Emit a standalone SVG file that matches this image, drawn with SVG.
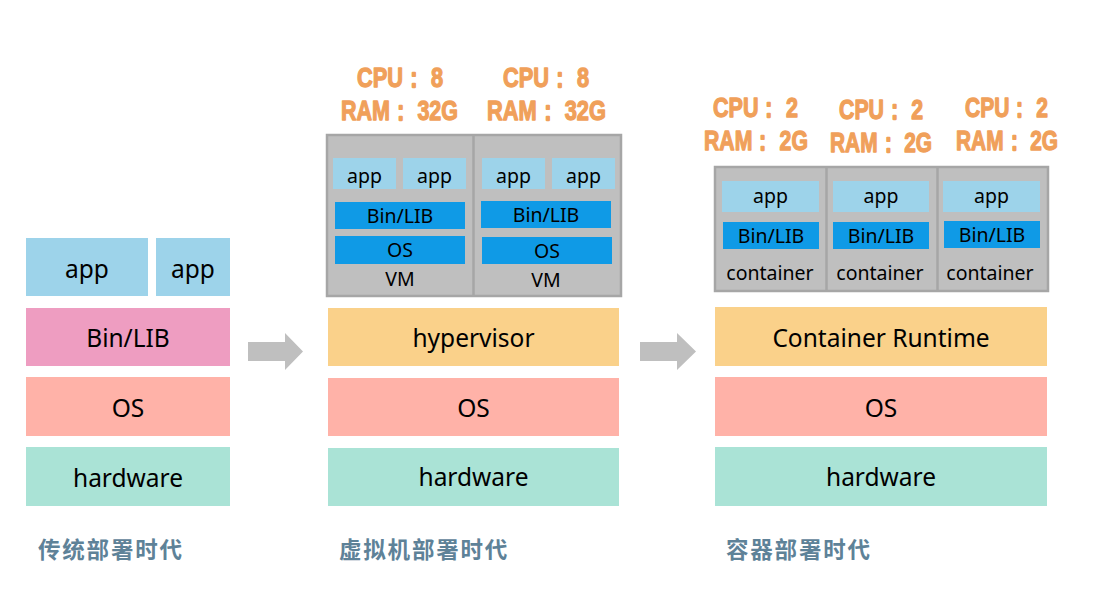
<svg xmlns="http://www.w3.org/2000/svg" width="1093" height="615" viewBox="0 0 1093 615">
<style>
.t{font-family:"Noto Sans","Open Sans","DejaVu Sans",sans-serif;fill:#000;text-anchor:middle}
.big{font-size:24.5px}
.sm{font-size:19.5px}
.res{font-family:"Liberation Sans",Arial,sans-serif;font-weight:bold;font-size:28px;fill:#F0A05A;stroke:#F0A05A;stroke-width:1.3;stroke-linejoin:round}
.era{font-family:"Noto Sans CJK SC","Noto Sans",sans-serif;font-weight:bold;font-size:22.5px;fill:#5E8298;letter-spacing:1.8px}
.app{fill:#9DD3EA}
.bin{fill:#0F9AE6}
.os{fill:#FFB2A8}
.hw{fill:#AAE3D6}
.hyp{fill:#FAD18A}
.box{fill:#BFBFBF;stroke:#A6A6A6;stroke-width:2.5}
.div{stroke:#A6A6A6;stroke-width:2.5}
.arrow{fill:#BFBFBF}
</style>

<!-- Traditional -->
<g id="traditional">
  <g id="t-app1"><rect class="app" x="26" y="238" width="122" height="58"/><text class="t big" x="87" y="278">app</text></g>
  <g id="t-app2"><rect class="app" x="156" y="238" width="74" height="58"/><text class="t big" x="193" y="278">app</text></g>
  <g id="t-bin"><rect fill="#EE9DC1" x="26" y="308" width="204" height="58"/><text class="t big" x="128" y="347">Bin/LIB</text></g>
  <g id="t-os"><rect class="os" x="26" y="377" width="204" height="59"/><text class="t big" x="128" y="417">OS</text></g>
  <g id="t-hw"><rect class="hw" x="26" y="447" width="204" height="59"/><text class="t big" x="128" y="487">hardware</text></g>
  <text class="era" x="38" y="558">传统部署时代</text>
</g>

<!-- Virtual machine -->
<g id="vm-era">
  <g id="vm-res1">
    <text class="res" x="357" y="87" textLength="86" lengthAdjust="spacingAndGlyphs" xml:space="preserve">CPU： 8</text>
    <text class="res" x="341" y="120" textLength="117" lengthAdjust="spacingAndGlyphs" xml:space="preserve">RAM： 32G</text>
  </g>
  <g id="vm-res2">
    <text class="res" x="503" y="87" textLength="86" lengthAdjust="spacingAndGlyphs" xml:space="preserve">CPU： 8</text>
    <text class="res" x="487" y="120" textLength="119" lengthAdjust="spacingAndGlyphs" xml:space="preserve">RAM： 32G</text>
  </g>
  <g id="vm-box">
    <rect class="box" x="327" y="135" width="294" height="161"/>
    <line class="div" x1="473.5" y1="135" x2="473.5" y2="296"/>
  </g>
  <g id="vm1">
    <rect class="app" x="333" y="158" width="63" height="31"/><text class="t sm" x="364.5" y="183">app</text>
    <rect class="app" x="403" y="158" width="63" height="31"/><text class="t sm" x="434.5" y="183">app</text>
    <rect class="bin" x="335" y="202" width="130" height="27"/><text class="t sm" x="400" y="223">Bin/LIB</text>
    <rect class="bin" x="335" y="236" width="130" height="28"/><text class="t sm" x="400" y="257">OS</text>
    <text class="t sm" x="400" y="286">VM</text>
  </g>
  <g id="vm2">
    <rect class="app" x="482" y="158" width="63" height="31"/><text class="t sm" x="513.5" y="183">app</text>
    <rect class="app" x="552" y="158" width="63" height="31"/><text class="t sm" x="583.5" y="183">app</text>
    <rect class="bin" x="481" y="201" width="130" height="27"/><text class="t sm" x="546" y="222">Bin/LIB</text>
    <rect class="bin" x="482" y="237" width="130" height="27"/><text class="t sm" x="547" y="258">OS</text>
    <text class="t sm" x="546" y="287">VM</text>
  </g>
  <g id="vm-hyp"><rect class="hyp" x="328" y="308" width="291" height="58"/><text class="t big" x="473.5" y="347">hypervisor</text></g>
  <g id="vm-os"><rect class="os" x="328" y="378" width="291" height="58"/><text class="t big" x="473.5" y="417">OS</text></g>
  <g id="vm-hw"><rect class="hw" x="328" y="448" width="291" height="58"/><text class="t big" x="473.5" y="486">hardware</text></g>
  <text class="era" x="339" y="558">虚拟机部署时代</text>
</g>

<!-- Container -->
<g id="container-era">
  <g id="c-res1">
    <text class="res" x="713" y="117" textLength="85" lengthAdjust="spacingAndGlyphs" xml:space="preserve">CPU： 2</text>
    <text class="res" x="704" y="150" textLength="104" lengthAdjust="spacingAndGlyphs" xml:space="preserve">RAM： 2G</text>
  </g>
  <g id="c-res2">
    <text class="res" x="839" y="119" textLength="84" lengthAdjust="spacingAndGlyphs" xml:space="preserve">CPU： 2</text>
    <text class="res" x="830" y="152" textLength="102" lengthAdjust="spacingAndGlyphs" xml:space="preserve">RAM： 2G</text>
  </g>
  <g id="c-res3">
    <text class="res" x="965" y="117" textLength="83" lengthAdjust="spacingAndGlyphs" xml:space="preserve">CPU： 2</text>
    <text class="res" x="956" y="150" textLength="102" lengthAdjust="spacingAndGlyphs" xml:space="preserve">RAM： 2G</text>
  </g>
  <g id="c-box">
    <rect class="box" x="715" y="167" width="333" height="124"/>
    <line class="div" x1="826.5" y1="167" x2="826.5" y2="291"/>
    <line class="div" x1="937.5" y1="167" x2="937.5" y2="291"/>
  </g>
  <g id="c1">
    <rect class="app" x="722" y="181" width="97" height="31"/><text class="t sm" x="770.5" y="203">app</text>
    <rect class="bin" x="723" y="222" width="96" height="27"/><text class="t sm" x="771" y="243">Bin/LIB</text>
    <text class="t sm" x="770" y="280">container</text>
  </g>
  <g id="c2">
    <rect class="app" x="833" y="181" width="96" height="31"/><text class="t sm" x="881" y="203">app</text>
    <rect class="bin" x="833" y="222" width="96" height="27"/><text class="t sm" x="881" y="243">Bin/LIB</text>
    <text class="t sm" x="880" y="280">container</text>
  </g>
  <g id="c3">
    <rect class="app" x="943" y="181" width="97" height="31"/><text class="t sm" x="991.5" y="203">app</text>
    <rect class="bin" x="944" y="221" width="96" height="27"/><text class="t sm" x="992" y="242">Bin/LIB</text>
    <text class="t sm" x="990" y="280">container</text>
  </g>
  <g id="c-rt"><rect class="hyp" x="715" y="307" width="332" height="59"/><text class="t big" x="881" y="347">Container Runtime</text></g>
  <g id="c-os"><rect class="os" x="715" y="377" width="332" height="59"/><text class="t big" x="881" y="417">OS</text></g>
  <g id="c-hw"><rect class="hw" x="715" y="447" width="332" height="59"/><text class="t big" x="881" y="486">hardware</text></g>
  <text class="era" x="726" y="558">容器部署时代</text>
</g>

<!-- Connectors -->
<g id="connectors">
  <polygon class="arrow" points="248,342 285,342 285,333 303,351.5 285,370 285,361 248,361"/>
  <polygon class="arrow" points="640,342 677,342 677,333 696,351.5 677,370 677,361 640,361"/>
</g>
</svg>
